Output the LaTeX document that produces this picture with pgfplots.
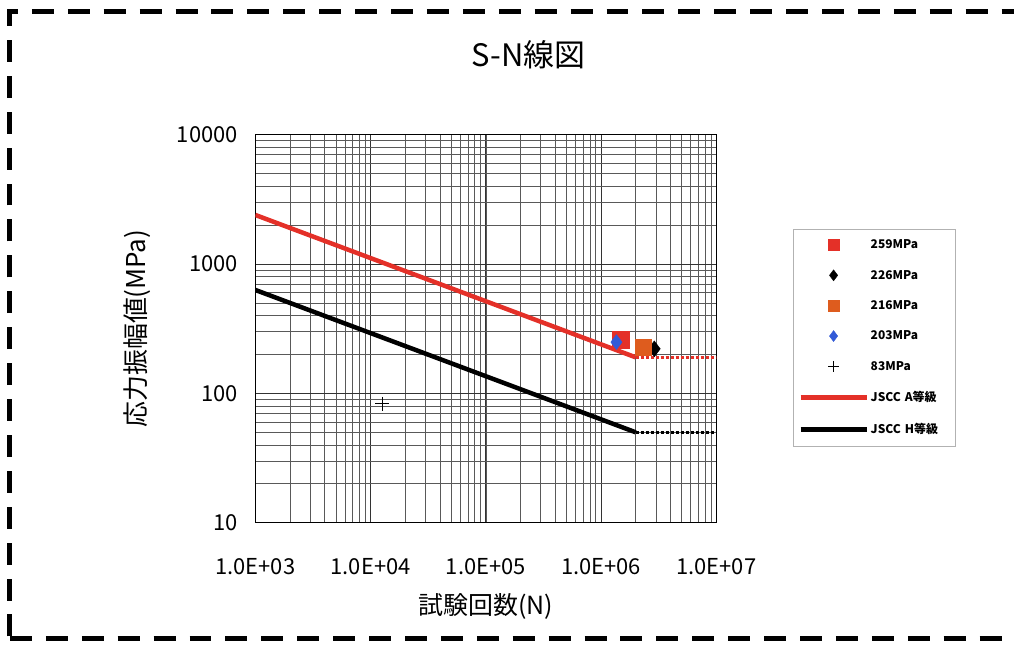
\documentclass[border=0pt]{standalone}
\usepackage{pgfplots}
\pgfplotsset{compat=1.18}
\usepackage{fontspec}
\setmainfont{Noto Sans CJK JP}
\definecolor{jred}{RGB}{228,48,40}
\definecolor{jorange}{RGB}{222,92,30}
\definecolor{jblue}{RGB}{50,90,215}
\begin{document}
\begin{tikzpicture}[x=1pt,y=1pt]
\path (0,0) rectangle (1016,646);
\draw[line width=5pt, dash pattern=on 22pt off 14pt] (10,8) -- (10,634) -- (1016,634);
\draw[line width=5pt, dash pattern=on 22pt off 14pt] (10,6) -- (1016,6);
\node[font=\fontsize{31}{34}\selectfont] at (530,591) {S-N線図};
\begin{axis}[
  at={(256pt,122pt)}, anchor=south west,
  scale only axis, width=462pt, height=389pt,
  xmode=log, ymode=log,
  xmin=1e3, xmax=1e7, ymin=10, ymax=10000,
  xtick={1e3,1e4,1e5,1e6,1e7},
  xticklabels={1.0E+03,1.0E+04,1.0E+05,1.0E+06,1.0E+07},
  ytick={10,100,1000,10000},
  yticklabels={10,100,1000,10000},
  tick style={draw=none},
  grid=both,
  major grid style={black!80, line width=0.8pt},
  minor grid style={black!65, line width=0.6pt},
  axis line style={black, line width=1pt},
  ticklabel style={font=\fontsize{22}{24}\selectfont},
  xticklabel style={yshift=-32pt},
  yticklabel style={xshift=-14pt},
  xlabel={試験回数(N)}, ylabel={応力振幅値(MPa)},
  xlabel style={font=\fontsize{25}{28}\selectfont, yshift=-12pt},
  ylabel style={font=\fontsize{26}{28}\selectfont, yshift=20pt},
  legend style={at={(1.167,0.758)}, anchor=north west, draw=black!30,
    font=\fontsize{12}{14}\selectfont\bfseries, row sep=16pt, inner xsep=5pt, inner ysep=9pt,
    nodes={text width=78pt}},
  legend cell align=left,
  legend image code/.code={\draw[mark repeat=2,mark phase=2,#1,mark size=5.5pt] plot coordinates {(0pt,0pt)(33pt,0pt)(66pt,0pt)};},
]
\addplot[only marks, mark=square*, mark size=8.5pt, color=jred] coordinates {(1.48e6,258)};
\addlegendentry{259MPa}
\addplot[only marks, mark=diamond*, mark size=8pt, color=black] coordinates {(2.9e6,221)};
\addlegendentry{226MPa}
\addplot[only marks, mark=square*, mark size=8pt, color=jorange] coordinates {(2.33e6,228)};
\addlegendentry{216MPa}
\addplot[only marks, mark=diamond*, mark size=7.5pt, color=jblue] coordinates {(1.36e6,249)};
\addlegendentry{203MPa}
\addplot[only marks, mark=+, mark size=7pt, color=black, line width=1.3pt] coordinates {(1.26e4,83)};
\addlegendentry{83MPa}
\addplot[jred, line width=4.5pt] coordinates {(1e3,2394) (2e6,190)};
\addlegendentry{JSCC A等級}
\addplot[black, line width=4.5pt] coordinates {(1e3,630) (2e6,50)};
\addlegendentry{JSCC H等級}
\addplot[jred, line width=3pt, dotted, forget plot] coordinates {(2e6,190) (1e7,190)};
\addplot[black, line width=3pt, dotted, forget plot] coordinates {(2e6,50) (1e7,50)};
\end{axis}
\end{tikzpicture}
\end{document}
